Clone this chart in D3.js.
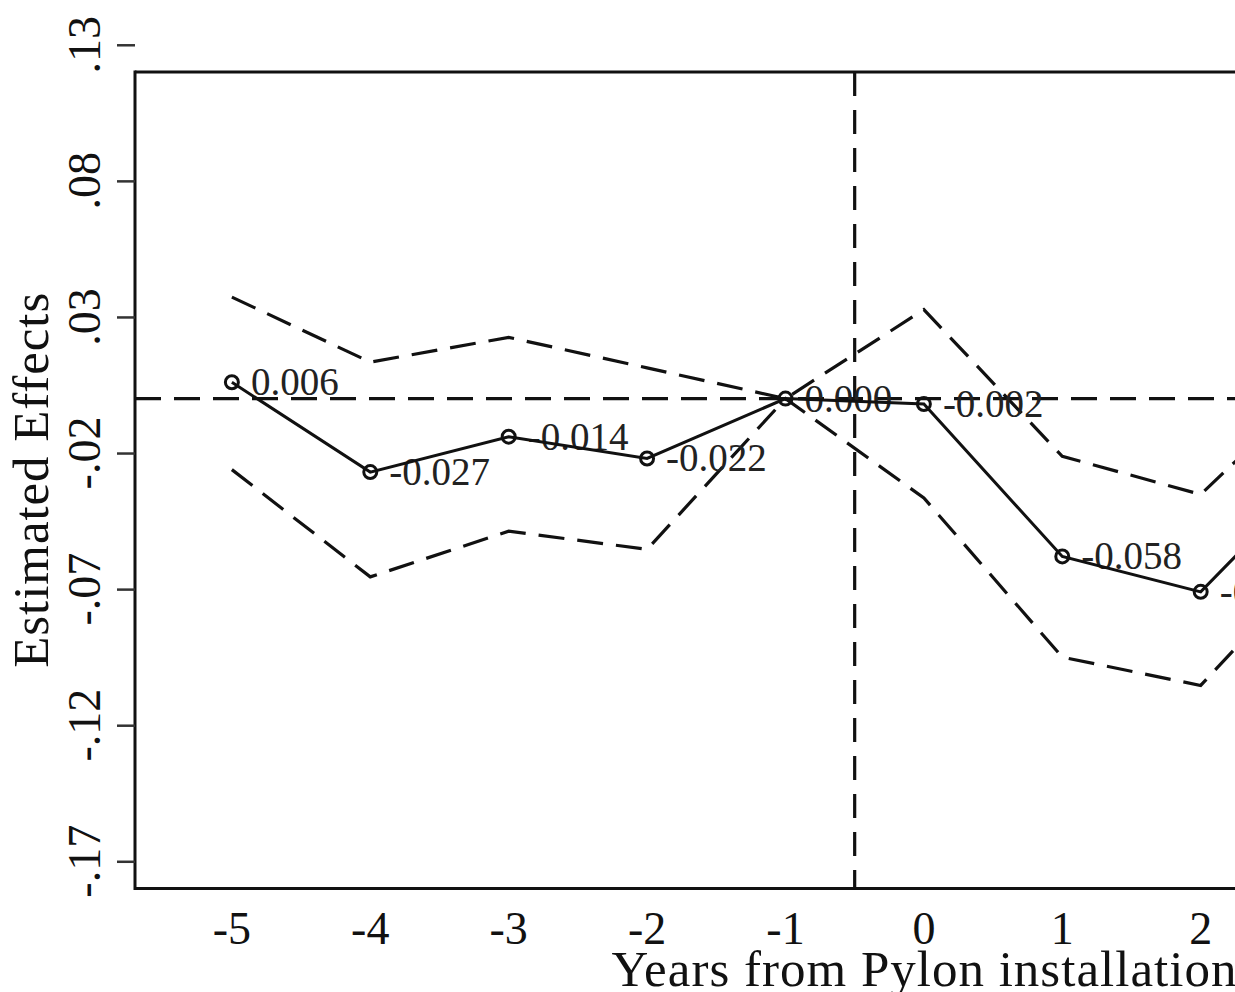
<!DOCTYPE html>
<html>
<head>
<meta charset="utf-8">
<script src="https://cdn.jsdelivr.net/npm/d3@7"></script>
<style>
  html, body { margin: 0; padding: 0; background: #fff; overflow: hidden; }
  svg { display: block; }
  text { font-family: "Liberation Serif", "Times New Roman", serif; fill: #111; }
</style>
</head>
<body>
<svg id="chart" width="1235" height="992"></svg>
<script>
// ---- data ----
const years     = [-5, -4, -3, -2, -1, 0, 1, 2, 3];
const estimate  = [0.006, -0.027, -0.014, -0.022, 0.000, -0.002, -0.058, -0.071, -0.019];
const ciUpper   = [0.0373, 0.0134, 0.0225, 0.0113, 0.000, 0.0327, -0.0212, -0.0352, 0.013];
const ciLower   = [-0.0261, -0.0655, -0.0487, -0.0554, 0.000, -0.0365, -0.095, -0.1054, -0.051];
const pointLabels = ["0.006", "-0.027", "-0.014", "-0.022", "0.000", "-0.002", "-0.058", "-0.071", "-0.019"];
const xTicks    = [-5, -4, -3, -2, -1, 0, 1, 2];
const xTickLabels = ["-5", "-4", "-3", "-2", "-1", "0", "1", "2"];
const yTicks    = [-0.17, -0.12, -0.07, -0.02, 0.03, 0.08, 0.13];
const yTickLabels = ["-.17", "-.12", "-.07", "-.02", ".03", ".08", ".13"];
const xTitle = "Years from Pylon installation";
const yTitle = "Estimated Effects";
const eventLine = -0.5;

// ---- layout ----
const W = 1235;
const svg = d3.select("#chart");
const plotLeft = 135, plotTop = 72, plotBottom = 888.5;
const x = d3.scaleLinear().domain([-5.7, 5.7]).range([plotLeft, plotLeft + 11.4 * 138.4]);
const y = d3.scaleLinear().domain([-0.18, 0.12]).range([plotBottom, plotTop]);
const plotRight = x(5.7);

const data = years.map((yr, i) => ({
  yr, est: estimate[i], hi: ciUpper[i], lo: ciLower[i], label: pointLabels[i]
}));

const dash = "26,13";
const ink = "#111";

// reference lines
svg.append("line")
  .attr("x1", plotLeft).attr("x2", plotRight)
  .attr("y1", y(0)).attr("y2", y(0))
  .attr("stroke", ink).attr("stroke-width", 3.2).attr("stroke-dasharray", dash);

svg.append("line")
  .attr("x1", x(eventLine)).attr("x2", x(eventLine))
  .attr("y1", plotTop).attr("y2", plotBottom)
  .attr("stroke", ink).attr("stroke-width", 3.2).attr("stroke-dasharray", "24,14");

// CI lines
const lineHi = d3.line().x(d => x(d.yr)).y(d => y(d.hi));
const lineLo = d3.line().x(d => x(d.yr)).y(d => y(d.lo));
svg.append("path").datum(data).attr("d", lineHi)
  .attr("fill", "none").attr("stroke", ink).attr("stroke-width", 3.2).attr("stroke-dasharray", dash);
svg.append("path").datum(data).attr("d", lineLo)
  .attr("fill", "none").attr("stroke", ink).attr("stroke-width", 3.2).attr("stroke-dasharray", dash);

// point labels (only those that fall inside the picture)
svg.append("g").selectAll("text").data(data.filter(d => x(d.yr) + 19 < W)).join("text")
  .attr("x", d => x(d.yr) + 19)
  .attr("y", d => y(d.est) + 13)
  .attr("font-size", 39)
  .style("fill", "#222")
  .text(d => d.label);

// estimate line
const lineEst = d3.line().x(d => x(d.yr)).y(d => y(d.est));
svg.append("path").datum(data).attr("d", lineEst)
  .attr("fill", "none").attr("stroke", ink).attr("stroke-width", 3);

svg.append("g").selectAll("circle").data(data).join("circle")
  .attr("cx", d => x(d.yr)).attr("cy", d => y(d.est)).attr("r", 6.5)
  .attr("fill", "none").attr("stroke", ink).attr("stroke-width", 3);

// frame (left, top, bottom)
svg.append("line").attr("x1", plotLeft).attr("x2", plotLeft).attr("y1", plotTop - 1.5).attr("y2", plotBottom + 1.5)
  .attr("stroke", ink).attr("stroke-width", 3);
svg.append("line").attr("x1", plotLeft).attr("x2", plotRight).attr("y1", plotTop).attr("y2", plotTop)
  .attr("stroke", ink).attr("stroke-width", 3);
svg.append("line").attr("x1", plotLeft).attr("x2", plotRight).attr("y1", plotBottom).attr("y2", plotBottom)
  .attr("stroke", ink).attr("stroke-width", 3);

// y axis ticks
const yAxis = d3.axisLeft(y).tickValues(yTicks).tickSize(18).tickFormat("");
const gy = svg.append("g").attr("transform", `translate(${plotLeft},0)`).call(yAxis);
gy.select(".domain").remove();
gy.selectAll(".tick line").attr("stroke", "#333").attr("stroke-width", 2.5);

svg.append("g").selectAll("text").data(yTicks).join("text")
  .attr("transform", (d) => `translate(100,${y(d)}) rotate(-90)`)
  .attr("text-anchor", "middle")
  .attr("font-size", 46)
  .text((d, i) => yTickLabels[i]);

// x tick labels (no tick marks)
svg.append("g").selectAll("text").data(xTicks).join("text")
  .attr("x", d => x(d)).attr("y", 944)
  .attr("text-anchor", "middle")
  .attr("font-size", 46)
  .text((d, i) => xTickLabels[i]);

// titles
svg.append("text")
  .attr("x", x(0)).attr("y", 986)
  .attr("text-anchor", "middle")
  .attr("font-size", 51)
  .attr("textLength", 625).attr("lengthAdjust", "spacing")
  .text(xTitle);

svg.append("text")
  .attr("transform", `translate(48,${(plotTop + plotBottom) / 2}) rotate(-90)`)
  .attr("text-anchor", "middle")
  .attr("font-size", 51)
  .attr("textLength", 375).attr("lengthAdjust", "spacing")
  .text(yTitle);
</script>
</body>
</html>
